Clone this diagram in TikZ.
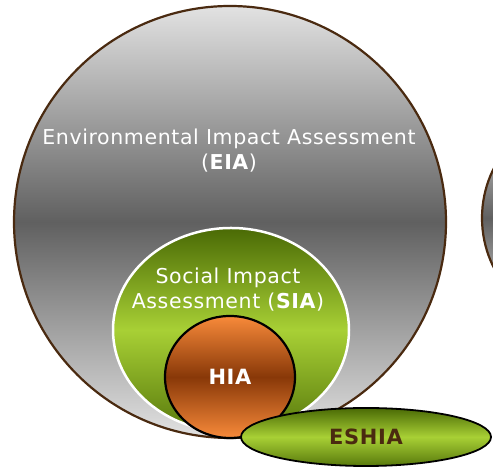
\documentclass[tikz,border=0pt]{standalone}
\usepackage{fontspec}
\setmainfont[LetterSpace=3]{DejaVu Sans}
\usetikzlibrary{shapes.geometric,positioning}

\definecolor{rimbrown}{HTML}{4A2A10}
\definecolor{greylight}{HTML}{E2E2E2}
\definecolor{greydark}{HTML}{606060}
\definecolor{greendark}{HTML}{4A6A05}
\definecolor{greenlight}{HTML}{A8D035}
\definecolor{orangelight}{HTML}{F88A3A}
\definecolor{orangedark}{HTML}{883808}

\begin{document}
\begin{tikzpicture}[x=1pt,y=1pt,
		grey disc/.style={circle,draw=rimbrown,line width=2.2pt,top color=greylight,bottom color=greylight,middle color=greydark,inner sep=0pt},
		green disc/.style={ellipse,top color=greendark,bottom color=greendark!85!greenlight,middle color=greenlight,inner sep=0pt},
		orange disc/.style={ellipse,draw=black,line width=2.2pt,top color=orangelight,bottom color=orangelight,middle color=orangedark,inner sep=0pt},
		label text/.style={text=white,align=center,inner sep=0pt,font=\fontsize{20.5}{25}\selectfont}]
	\useasboundingbox (0,0) rectangle (493,473);
	\clip (0,0) rectangle (493,473);

	% circles
	\node[grey disc,minimum size=432pt] (EIA) at (230,251) {};
	\node[grey disc,minimum size=220pt] (Other) at (592,255) {};
	\node[green disc,draw=white,line width=2.5pt,minimum width=236pt,minimum height=204pt] (SIA) at (231,143) {};
	\node[orange disc,minimum width=130pt,minimum height=122pt] (HIA) at (230,96) {};
	\node[green disc,draw=black,line width=1.8pt,minimum width=250pt,minimum height=58pt] (ESHIA) at (366,36) {};

	% texts
	\node[label text] (EIAtext) at (229,322) {Environmental Impact Assessment\\(\textbf{EIA})};
	\node[label text] (SIAtext) at (228,183) {Social Impact\\Assessment (\textbf{SIA})};
	\node[text=white,font=\fontsize{21}{25}\selectfont\bfseries] (HIAtext) at (HIA) {HIA};
	\node[text=rimbrown,font=\fontsize{21}{25}\selectfont\bfseries] (ESHIAtext) at (ESHIA) {ESHIA};
\end{tikzpicture}
\end{document}
